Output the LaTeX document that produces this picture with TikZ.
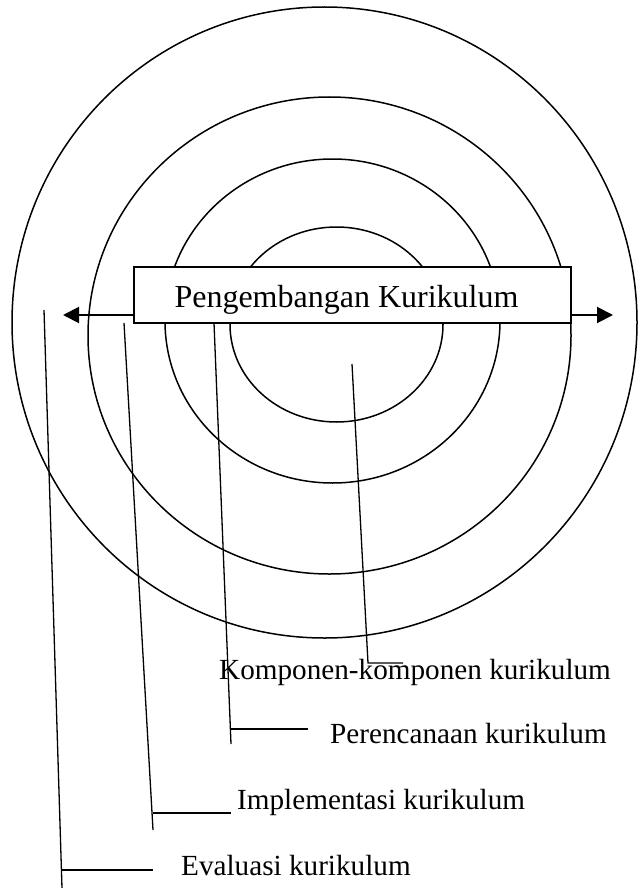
\documentclass[tikz,border=0pt]{standalone}
\usepackage{fontspec}
\setmainfont{Liberation Serif}
\usetikzlibrary{arrows.meta}
\begin{document}
\begin{tikzpicture}[x=1pt,y=-1pt,
		lingkaran/.style={line width=1.5pt},
		garis/.style={line width=1.3pt},
		panah/.style={line width=2pt,-{Triangle[length=16pt,width=16pt]}},
		ket/.style={anchor=base west,inner sep=0pt,font=\fontsize{29.2}{35}\selectfont}]
	\useasboundingbox (0,0) rectangle (638,888);
	% lingkaran
	\draw[lingkaran] (324.5,322.5) ellipse [x radius=312.5pt,y radius=315.5pt];
	\draw[lingkaran] (329.5,335.5) ellipse [x radius=241.5pt,y radius=238.5pt];
	\draw[lingkaran] (332.5,321) ellipse [x radius=167.5pt,y radius=162pt];
	\draw[lingkaran] (336.5,324.5) ellipse [x radius=106.5pt,y radius=97.5pt];
	% kotak judul
	\node[draw,fill=white,line width=2pt,minimum width=437pt,minimum height=56pt,inner sep=0pt] (kotak) at (352.5,295) {};
	\node[anchor=base,inner sep=0pt,font=\fontsize{32}{38}\selectfont] (judul) at (346.5,307) {Pengembangan Kurikulum};
	\coordinate (kiri) at (63,315);
	\coordinate (kanan) at (613,315);
	\draw[panah] (kotak.west |- kiri) -- (kiri);
	\draw[panah] (kotak.east |- kanan) -- (kanan);
	% komponen
	\coordinate (kom-a) at (352,364);
	\coordinate (kom-b) at (368,663);
	\coordinate (kom-c) at (403,663);
	\draw[garis] (kom-a) -- (kom-b) -- (kom-c);
	\node[ket] (kom) at (219,679) {Komponen-komponen kurikulum};
	% perencanaan
	\coordinate (ren-a) at (214,323);
	\coordinate (ren-b) at (231,744);
	\coordinate (ren-c) at (308,729);
	\draw[garis] (ren-a) -- (ren-b);
	\draw[garis] (ren-b |- ren-c) -- (ren-c);
	\node[ket] (ren) at (330,743) {Perencanaan kurikulum};
	% implementasi
	\coordinate (imp-a) at (124,323);
	\coordinate (imp-b) at (153,830);
	\coordinate (imp-c) at (231,813);
	\draw[garis] (imp-a) -- (imp-b);
	\draw[garis] (imp-b |- imp-c) -- (imp-c);
	\node[ket] (imp) at (237,809) {Implementasi kurikulum};
	% evaluasi
	\coordinate (eva-a) at (44,310);
	\coordinate (eva-b) at (62,888);
	\coordinate (eva-c) at (153,870);
	\draw[garis] (eva-a) -- (eva-b);
	\draw[garis] (eva-b |- eva-c) -- (eva-c);
	\node[ket] (eva) at (181,875) {Evaluasi kurikulum};
\end{tikzpicture}
\end{document}
